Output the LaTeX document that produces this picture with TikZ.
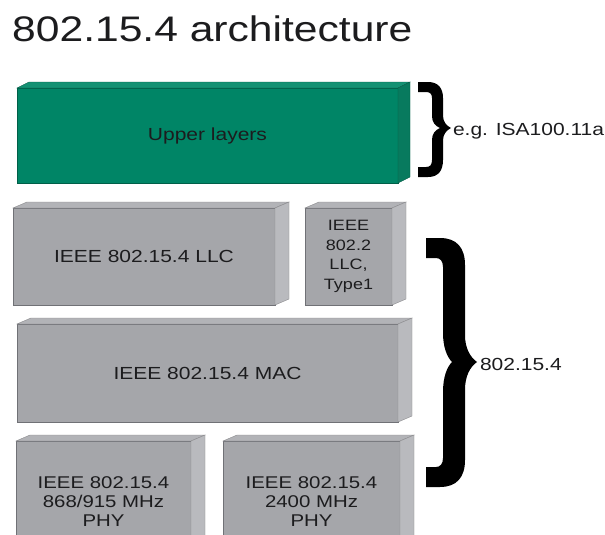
\documentclass[tikz,border=0pt]{standalone}
\usepackage{fontspec}
\newfontfamily\wf[FakeStretch=1.2]{Liberation Sans}
\definecolor{grnF}{RGB}{0,133,102}
\definecolor{grnT}{RGB}{20,145,115}
\definecolor{grnS}{RGB}{8,122,94}
\definecolor{grnE}{RGB}{0,95,72}
\definecolor{gryF}{RGB}{165,166,170}
\definecolor{gryT}{RGB}{178,179,183}
\definecolor{gryS}{RGB}{185,186,190}
\definecolor{gryE}{RGB}{112,113,118}
\definecolor{txt}{RGB}{28,28,30}
\newcommand\cubefaces[4]{%
  \filldraw[draw=#4!75!black, line width=.4pt, fill=#3] (#1.north west) -- ++(#2,-6) -- ([shift={(#2,-6)}]#1.north east) -- (#1.north east) -- cycle;
  \filldraw[draw=#4!75!black, line width=.4pt, fill=#4] (#1.north east) -- ++(#2,-6) -- ([shift={(#2,-6)}]#1.south east) -- (#1.south east) -- cycle;}
\begin{document}
\begin{tikzpicture}[x=1pt,y=-1pt,
  face/.style={inner sep=0pt, outer sep=0pt, anchor=north west, align=center, text=txt,
    font=\wf\fontsize{17.5}{19}\selectfont},
  greenface/.style={face, fill=grnF, draw=grnE, line width=.6pt},
  grayface/.style={face, fill=gryF, draw=gryE, line width=.6pt},
  lbl/.style={inner sep=0pt, outer sep=0pt, text=txt, font=\wf\fontsize{17.5}{19}\selectfont},
  bracefill/.style={fill=black}]
\path[use as bounding box] (0,0) rectangle (605,535);
\clip (0,0) rectangle (605,535);
\fill[white] (0,0) rectangle (605,535);

% title
\node[anchor=base west, inner sep=0pt, text=txt, font=\wf\fontsize{35.5}{40}\selectfont]
  (title) at (12,42) {802.15.4 architecture};

% boxes
\node[greenface, minimum width=381, minimum height=95] (upper) at (17,88) {Upper layers};
\cubefaces{upper}{12}{grnT}{grnS}

\node[grayface, minimum width=262, minimum height=97] (llc) at (13,208) {IEEE 802.15.4 LLC};
\cubefaces{llc}{14}{gryT}{gryS}

\node[grayface, minimum width=87, minimum height=97, font=\wf\fontsize{15}{19.5}\selectfont]
  (llc2) at (305,208) {IEEE\\802.2\\LLC,\\Type1};
\cubefaces{llc2}{14}{gryT}{gryS}

\node[grayface, minimum width=381, minimum height=98] (mac) at (17,324) {IEEE 802.15.4 MAC};
\cubefaces{mac}{14}{gryT}{gryS}

\node[grayface, minimum width=175, minimum height=121, font=\wf\fontsize{17}{19}\selectfont]
  (phya) at (16,441) {IEEE 802.15.4\\868/915 MHz\\PHY};
\cubefaces{phya}{14}{gryT}{gryS}

\node[grayface, minimum width=177, minimum height=121, font=\wf\fontsize{17}{19}\selectfont]
  (phyb) at (223,441) {IEEE 802.15.4\\2400 MHz\\PHY};
\cubefaces{phyb}{14}{gryT}{gryS}

% small brace
\fill[bracefill] (418,82) -- (428,82) .. controls (438,82) and (443,88) .. (443,98)
  -- (443,116) .. controls (443,122) and (447,126) .. (451,128)
  .. controls (447,130) and (443,134) .. (443,140) -- (443,160)
  .. controls (443,171) and (438,177) .. (428,177) -- (418,177) -- (418,167) -- (426,167)
  .. controls (430,167) and (432,165) .. (432,160) -- (432,140)
  .. controls (432,134) and (435,130) .. (440,128)
  .. controls (435,126) and (432,122) .. (432,116) -- (432,98)
  .. controls (432,94) and (430,92) .. (426,92) -- (418,92) -- cycle;
\node[lbl, anchor=base west] (eg) at (453,135) {e.g. ISA100.11a};

% big brace
\fill[bracefill] (426,238) -- (440,238) .. controls (457,238) and (465,248) .. (465,265)
  -- (465,335) .. controls (465,348) and (470,357) .. (477,362)
  .. controls (470,367) and (465,376) .. (465,390) -- (465,460)
  .. controls (465,477) and (457,487) .. (440,487) -- (426,487) -- (426,467) -- (436,467)
  .. controls (440,467) and (443,464) .. (443,458) -- (443,392)
  .. controls (443,377) and (447,367) .. (452,362)
  .. controls (447,357) and (443,347) .. (443,333) -- (443,267)
  .. controls (443,261) and (440,258) .. (436,258) -- (426,258) -- cycle;
\node[lbl, anchor=base west] (std) at (480,370) {802.15.4};
\end{tikzpicture}
\end{document}
